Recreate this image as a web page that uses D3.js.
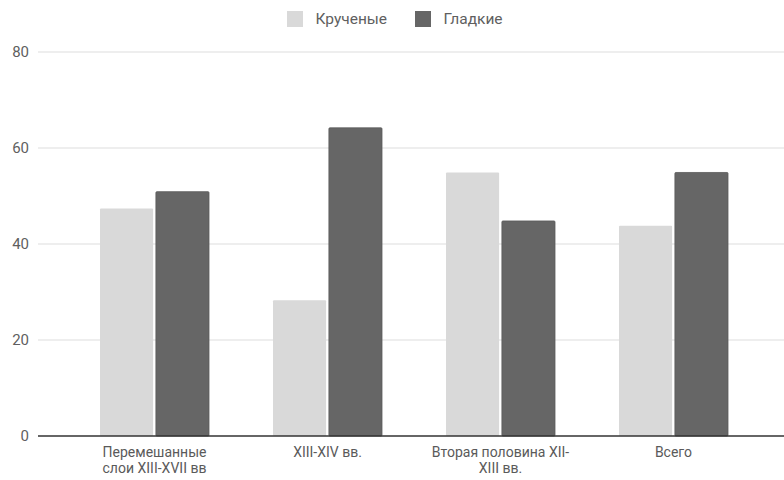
<!DOCTYPE html>
<html>
<head>
<meta charset="utf-8">
<script src="https://cdn.jsdelivr.net/npm/d3@7"></script>
<style>
  body { margin: 0; background: #fff; }
  text { font-family: Roboto, "Noto Sans", sans-serif; }
</style>
</head>
<body>
<script>
const categories = [
    ["Перемешанные", "слои XIII-XVII вв"],
    ["XIII-XIV вв."],
    ["Вторая половина XII-", "XIII вв."],
    ["Всего"]
];
const seriesNames = ["Крученые", "Гладкие"];
const twisted = [47.4, 28.3, 54.9, 43.8];
const smooth = [50.9, 64.2, 44.8, 54.9];
const yTicks = [0, 20, 40, 60, 80];
const colors = ["#d9d9d9", "#666666"];

const width = 784, height = 480;

const svg = d3.select("body").append("svg")
    .attr("width", width)
    .attr("height", height);

const yScale = d3.scaleLinear()
    .domain([0, 80])
    .range([436, 52]);

const x0 = d3.scaleBand()
    .domain(d3.range(categories.length))
    .range([68, 760])
    .paddingInner(0)
    .paddingOuter(0);

const groupW = 109;
const x1 = d3.scaleBand()
    .domain([0, 1])
    .range([0, groupW])
    .paddingInner(0.05);

// grid
svg.append("g")
    .selectAll("line")
    .data(yTicks.filter(d => d > 0))
    .join("line")
    .attr("x1", 38)
    .attr("x2", width)
    .attr("y1", d => yScale(d))
    .attr("y2", d => yScale(d))
    .attr("stroke", "#dddddd")
    .attr("stroke-width", 1);

svg.append("g")
    .selectAll("text")
    .data(yTicks)
    .join("text")
    .attr("x", 29)
    .attr("y", d => yScale(d) + 5)
    .attr("text-anchor", "end")
    .attr("font-size", "15px")
    .attr("fill", "#5f5f5f")
    .text(d => d);

// bars
const rows = categories.map((c, i) => [twisted[i], smooth[i]]);

const groups = svg.append("g")
    .selectAll("g")
    .data(rows)
    .join("g")
    .attr("transform", (d, i) => `translate(${x0(i) + (x0.bandwidth() - groupW) / 2},0)`);

groups.selectAll("rect")
    .data(d => d)
    .join("rect")
    .attr("x", (d, j) => x1(j))
    .attr("y", d => yScale(d))
    .attr("width", x1.bandwidth())
    .attr("height", d => yScale(0) - yScale(d))
    .attr("rx", 1)
    .attr("fill", (d, j) => colors[j])
    .attr("stroke", (d, j) => j === 1 ? "#5a5a5a" : "none")
    .attr("stroke-width", 0.8);

// baseline
svg.append("line")
    .attr("x1", 38)
    .attr("x2", width)
    .attr("y1", yScale(0))
    .attr("y2", yScale(0))
    .attr("stroke", "#333")
    .attr("stroke-width", 1.3);

// category labels
const catLabels = svg.append("g")
    .selectAll("text")
    .data(categories)
    .join("text")
    .attr("text-anchor", "middle")
    .attr("font-size", "14px")
    .attr("fill", "#5a5a5a");

catLabels.each(function(lines, i) {
    const t = d3.select(this);
    lines.forEach((line, k) => {
        t.append("tspan")
            .attr("x", x0(i) + x0.bandwidth() / 2)
            .attr("y", 456.5 + k * 16.6)
            .text(line);
    });
});

// legend
const legendPos = [287, 415];
const legend = svg.append("g");
seriesNames.forEach((name, i) => {
    legend.append("rect")
        .attr("x", legendPos[i])
        .attr("y", 11)
        .attr("width", 16)
        .attr("height", 16)
        .attr("fill", colors[i]);
    legend.append("text")
        .attr("x", legendPos[i] + 28.5)
        .attr("y", 23.5)
        .attr("font-size", "15.5px")
        .attr("fill", "#5f5f5f")
        .text(name);
});
</script>
</body>
</html>
